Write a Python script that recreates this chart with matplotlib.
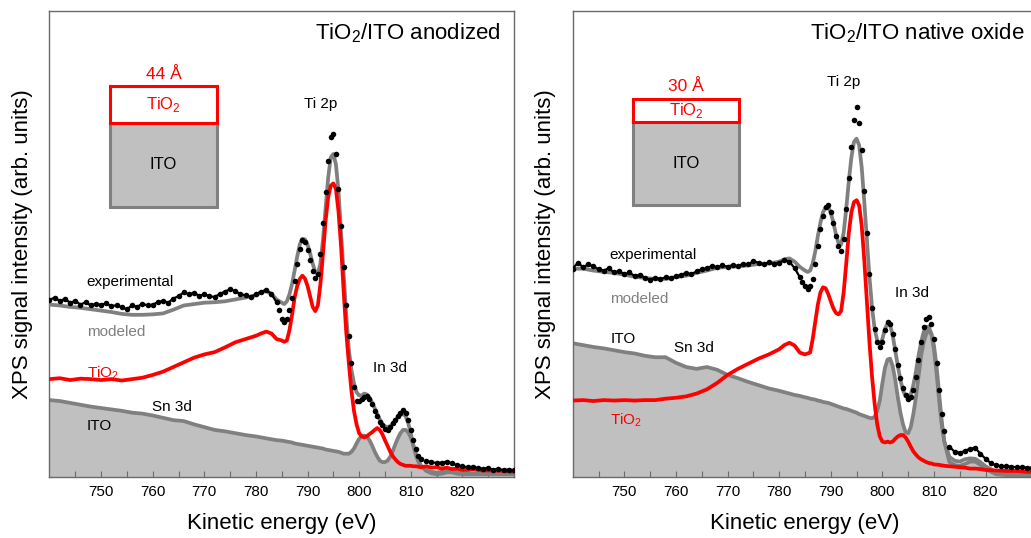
import numpy as np
import matplotlib
matplotlib.use('Agg')
import matplotlib.pyplot as plt
from matplotlib.patches import Rectangle

plt.rcParams['font.family'] = ['Liberation Sans', 'DejaVu Sans']
plt.rcParams['mathtext.fontset'] = 'custom'
plt.rcParams['mathtext.rm'] = 'Liberation Sans'

# energy grids (eV): smooth curves and experimental points
e_line = np.concatenate([np.arange(740, 781, 2), np.arange(781, 785, 1),
                         np.arange(785, 812.5, 0.5), np.arange(813, 821, 1),
                         np.arange(822, 831, 2)])
e_exp = np.concatenate([np.arange(740, 785, 1), np.arange(784.5, 812.5, 0.5),
                        np.arange(813, 831, 1)])

# ---- TiO2/ITO anodized (values in % of axis height) ----
anod_exp = [38.0, 38.5, 37.8, 38.2, 37.4, 37.8, 37.0, 37.5, 36.8, 37.2,
            36.9, 37.3, 36.6, 36.9, 36.4, 36.0, 36.8, 36.5, 37.2, 36.8,
            37.0, 37.5, 37.8, 37.4, 38.3, 38.8, 39.6, 39.2, 39.5, 38.9,
            39.2, 38.8, 38.6, 39.3, 39.8, 40.3, 39.9, 39.2, 39.0, 38.6,
            39.2, 39.8, 40.1, 39.3, 37.5,
            35.8, 34.0, 33.2, 34.0, 35.8, 38.4, 42.1, 45.7, 49.0, 50.9,
            50.5, 48.7, 46.5, 44.3, 42.8, 43.5, 47.9, 54.6, 61.2, 67.8,
            72.9, 73.7, 69.3, 61.9, 53.8, 45.0, 36.9, 30.3, 24.4, 19.3,
            16.3, 16.3, 16.7, 17.2, 17.4, 16.7, 15.6, 14.1, 13.0, 11.9,
            11.2, 10.4, 10.1, 10.8, 11.5, 12.3, 13.0, 13.8, 14.3, 13.8,
            12.3, 10.1, 7.9, 6.0, 4.6, 3.8,
            3.5, 3.2, 3.0, 3.1, 3.3, 2.9, 2.5, 2.3, 2.1, 2.2, 1.9, 1.8, 1.9,
            1.6, 1.7, 1.5, 1.6, 1.4]
anod_model = [37.0, 36.8, 36.5, 36.3, 36.0, 35.7, 35.4, 35.0, 34.8, 34.8, 34.9,
              35.1, 35.9, 36.8, 37.1, 37.4, 37.5, 37.7, 38.1, 38.5, 39.0,
              39.6, 39.9, 39.3, 38.1,
              37.4, 37.1, 37.7, 39.2, 41.4, 44.3, 47.3, 49.9, 51.1, 51.0,
              49.9, 48.0, 45.8, 44.0, 43.6, 45.8, 51.0, 57.6, 64.2, 68.6,
              69.3, 67.1, 61.3, 52.4, 43.6, 34.8, 27.4, 23.0, 20.1, 18.2,
              17.5, 17.5, 17.9, 17.7, 17.1, 16.0, 14.8, 13.5, 12.4, 11.4,
              10.9, 10.7, 10.9, 11.4, 12.1, 12.9, 13.3, 13.5, 13.1, 11.6,
              9.4, 6.8, 4.6, 3.2, 2.3,
              1.5, 1.1, 1.0, 1.1, 1.3, 1.3, 1.2, 1.0,
              0.8, 0.8, 0.8, 0.8, 0.8]
anod_tio2 = [21.0, 21.2, 20.8, 21.1, 21.0, 20.8, 21.0, 20.7, 21.0, 21.3, 21.9,
             22.6, 23.6, 24.6, 25.6, 26.3, 26.8, 27.8, 28.9, 29.6, 30.3,
             30.8, 31.2, 30.8, 29.6,
             29.3, 29.0, 29.3, 31.5, 34.8, 38.5, 41.0, 42.5, 43.2, 42.6,
             41.0, 38.8, 36.5, 35.6, 36.8, 41.4, 48.0, 55.0, 60.0, 62.5,
             63.0, 61.8, 57.0, 49.5, 39.9, 31.1, 24.5, 18.6, 14.2, 11.3,
             9.4, 8.7, 8.5, 8.7, 9.2, 9.6, 10.1, 10.5, 10.1, 9.2,
             7.9, 6.7, 5.5, 4.5, 3.8, 3.2, 2.8, 2.6, 2.4, 2.4,
             2.4, 2.3, 2.3, 2.2, 2.1,
             2.3, 2.0, 2.1, 1.8, 2.0, 1.7, 1.8, 1.5,
             1.7, 1.4, 1.4, 1.3, 1.1]
anod_ito = [16.5, 16.3, 15.9, 15.5, 15.1, 14.8, 14.5, 14.2, 13.8, 13.6, 13.2,
            12.7, 12.2, 12.0, 11.3, 10.7, 10.1, 9.8, 9.4, 9.0, 8.7,
            8.5, 8.3, 8.1, 7.9,
            7.8, 7.7, 7.6, 7.5, 7.4, 7.2, 7.1, 7.0, 6.9, 6.8,
            6.7, 6.6, 6.5, 6.4, 6.3, 6.2, 6.1, 5.9, 5.8, 5.7,
            5.6, 5.5, 5.4, 5.2, 5.0, 5.0, 5.0, 5.4, 6.1, 7.2,
            8.2, 8.8, 8.9, 8.7, 7.9, 6.8, 5.5, 4.4, 3.5, 3.2,
            3.2, 3.5, 4.3, 5.5, 7.0, 8.3, 9.4, 10.1, 10.1, 9.6,
            8.5, 6.8, 5.0, 3.5, 2.4,
            1.3, 0.8, 0.6, 0.7, 1.0, 1.0, 0.7, 0.6,
            0.6, 0.6, 0.6, 0.6, 0.6]

# ---- TiO2/ITO native oxide ----
nat_exp = [44.7, 46.0, 45.0, 45.6, 45.2, 44.6, 44.3, 44.8, 43.9, 44.2,
           43.5, 43.9, 43.1, 43.4, 42.8, 42.3, 42.8, 42.4, 42.9, 42.6,
           43.1, 43.4, 43.8, 43.5, 44.1, 44.6, 44.8, 45.3, 45.0, 45.4,
           45.1, 45.5, 45.2, 45.8, 45.6, 46.3, 46.0, 45.6, 46.1, 45.7,
           46.0, 46.5, 46.2, 44.8, 42.9,
           41.8, 41.0, 40.3, 41.0, 42.5, 45.8, 49.5, 53.2, 56.1, 57.9,
           58.3, 56.8, 54.6, 51.7, 49.5, 48.4, 51.0, 57.6, 64.2, 70.8,
           76.7, 79.5, 76.0, 70.1, 61.3, 52.4, 43.6, 36.3, 31.8, 28.9,
           27.8, 28.9, 31.5, 33.3, 32.9, 30.7, 27.4, 24.1, 21.2, 19.0,
           17.5, 16.8, 17.1, 18.6, 21.5, 25.2, 28.9, 32.2, 34.0, 34.4,
           32.9, 29.6, 24.5, 18.6, 13.5, 9.8,
           6.5, 5.4, 5.2, 5.6, 6.1, 6.2, 5.0, 3.9, 3.0, 2.5, 2.3, 2.3, 2.2,
           2.1, 2.1, 2.0, 2.0, 1.9]
nat_model = [44.7, 44.7, 44.3, 44.0, 43.8, 43.4, 43.0, 42.7, 42.5, 42.5, 42.9,
             43.2, 43.8, 44.3, 44.9, 45.1, 45.2, 45.4, 45.7, 45.8, 46.2,
             46.7, 46.9, 46.2, 45.1,
             44.3, 44.0, 44.3, 45.8, 48.4, 51.7, 54.6, 56.8, 57.9, 57.9,
             56.8, 54.6, 52.1, 50.2, 49.9, 52.4, 57.6, 63.5, 68.6, 71.9,
             72.6, 71.2, 66.4, 59.0, 51.0, 42.9, 36.3, 31.8, 29.3, 28.5,
             29.6, 31.8, 32.9, 32.6, 30.4, 27.1, 23.8, 20.8, 18.6, 17.3,
             17.0, 17.7, 19.7, 22.6, 26.0, 28.9, 31.1, 32.2, 32.2, 30.7,
             27.4, 22.3, 16.4, 11.3, 7.6,
             4.3, 3.5, 3.3, 3.8, 4.0, 3.9, 3.2, 2.3,
             1.1, 0.8, 0.7, 0.7, 0.7]
nat_tio2 = [16.4, 16.5, 16.3, 16.5, 16.4, 16.5, 16.4, 16.5, 16.5, 16.8, 17.0,
            17.3, 17.9, 18.8, 20.2, 21.9, 23.2, 24.3, 25.4, 26.3, 27.4,
            28.3, 28.8, 28.2, 26.7,
            26.3, 26.5, 26.7, 29.6, 33.3, 37.0, 39.6, 40.7, 40.5, 39.3,
            37.7, 36.2, 35.2, 34.9, 35.6, 39.6, 45.8, 52.4, 56.8, 59.0,
            59.4, 58.3, 53.9, 46.5, 37.7, 28.9, 21.5, 15.7, 11.3, 8.7,
            7.6, 7.4, 7.6, 7.4, 7.6, 8.2, 8.7, 9.0, 9.0, 8.5,
            7.6, 6.5, 5.5, 4.8, 4.2, 3.8, 3.5, 3.2, 3.0, 2.9,
            2.7, 2.65, 2.6, 2.5, 2.4,
            2.3, 2.2, 2.1, 2.0, 1.8, 1.8, 1.7, 1.5,
            1.4, 1.3, 1.3, 1.1, 1.1]
nat_ito = [28.7, 28.3, 27.9, 27.6, 27.2, 26.8, 26.5, 26.0, 25.7, 25.7, 24.5,
           23.6, 23.2, 23.6, 23.0, 21.9, 21.2, 20.4, 19.7, 19.0, 18.5,
           18.2, 17.9, 17.6, 17.4,
           17.1, 17.0, 16.8, 16.7, 16.6, 16.4, 16.3, 16.1, 16.0, 15.9,
           15.7, 15.5, 15.3, 15.1, 14.9, 14.7, 14.6, 14.4, 14.2, 14.0,
           13.8, 13.5, 13.3, 13.1, 12.9, 12.7, 12.6, 12.9, 14.2, 16.4,
           20.1, 23.4, 25.2, 25.4, 23.8, 20.8, 17.1, 13.8, 11.3, 9.6,
           9.4, 10.7, 13.5, 17.1, 21.5, 26.0, 28.9, 30.7, 31.5, 30.7,
           28.2, 23.8, 17.9, 12.0, 7.6,
           3.2, 2.6, 2.4, 2.8, 3.3, 3.3, 2.6, 1.7,
           0.6, 0.4, 0.4, 0.4, 0.4]

panels = [
    dict(exp=anod_exp, model=anod_model, tio2=anod_tio2, ito=anod_ito,
         title='TiO$_\\mathregular{2}$/ITO anodized', thick='44 Å',
         box=(0.130, 0.361, 0.759, 0.839, 0.580), thick_y=0.863,
         ti2p=(0.584, 0.801), in3d=(0.733, 0.233), sn3d=(0.263, 0.150),
         exp_lab=0.418, mod_lab=0.311, tio_lab=0.223, ito_lab=0.109),
    dict(exp=nat_exp, model=nat_model, tio2=nat_tio2, ito=nat_ito,
         title='TiO$_\\mathregular{2}$/ITO native oxide', thick='30 Å',
         box=(0.130, 0.358, 0.761, 0.812, 0.583), thick_y=0.838,
         ti2p=(0.584, 0.847), in3d=(0.731, 0.394), sn3d=(0.262, 0.276),
         exp_lab=0.476, mod_lab=0.383, tio_lab=0.123, ito_lab=0.297),
]

red = '#ff0000'
gray = '#808080'
light = '#c0c0c0'
frame = '#6a6a6a'

fig = plt.figure(figsize=(10.31, 5.38), dpi=100)
lefts = [0.048, 0.5555]

for left, p in zip(lefts, panels):
    ax = fig.add_axes([left, 0.1134, 0.4505, 0.8662])
    ax.fill_between(e_line, 0, p['ito'], color=light, lw=0, zorder=1)
    ax.plot(e_line, p['ito'], color=gray, lw=2.7, zorder=2)
    ax.plot(e_line, p['model'], color=gray, lw=2.7, zorder=3)
    ax.plot(e_line, p['tio2'], color=red, lw=2.7, zorder=4)
    # noisy flat parts of the spectrum look like a thick dotted band
    ax.plot(e_exp[:45], p['exp'][:45], color='black', lw=1.6, zorder=5)
    ax.plot(e_exp[-18:], p['exp'][-18:], color='black', lw=1.6, zorder=5)
    ax.plot(e_exp, p['exp'], 'o', color='black', ms=4.0, mew=0, zorder=5)

    ax.set_xlim(740, 830)
    ax.set_ylim(0, 100)
    ax.set_yticks([])
    ax.set_xticks(np.arange(750, 821, 10))
    ax.set_xticks(np.arange(745, 830, 5), minor=True)
    ax.tick_params(axis='x', which='both', direction='in', length=4,
                   width=0.8, color=frame, labelsize=11, pad=6)
    for s in ax.spines.values():
        s.set_color(frame)
        s.set_linewidth(1.0)

    ax.set_xlabel('Kinetic energy (eV)', fontsize=16)
    ax.xaxis.set_label_coords(0.5, -0.077)
    ax.set_ylabel('XPS signal intensity (arb. units)', fontsize=16)
    ax.yaxis.set_label_coords(-0.036, 0.5)

    tr = ax.transAxes
    ax.text(0.972, 0.952, p['title'], transform=tr, ha='right', va='center',
            fontsize=16)
    ax.text(*p['ti2p'], 'Ti 2p', transform=tr, ha='center', va='center', fontsize=11)
    ax.text(*p['in3d'], 'In 3d', transform=tr, ha='center', va='center', fontsize=11)
    ax.text(*p['sn3d'], 'Sn 3d', transform=tr, ha='center', va='center', fontsize=11)
    ax.text(0.079, p['exp_lab'], 'experimental', transform=tr, ha='left',
            va='center', fontsize=11)
    ax.text(0.081, p['mod_lab'], 'modeled', transform=tr, ha='left',
            va='center', fontsize=11, color=gray)
    ax.text(0.081, p['tio_lab'], 'TiO$_\\mathregular{2}$', transform=tr, ha='left',
            va='center', fontsize=11, color=red)
    ax.text(0.081, p['ito_lab'], 'ITO', transform=tr, ha='left',
            va='center', fontsize=11)

    # layer sketch
    x0, x1, ymid, ytop, ybot = p['box']
    ax.add_patch(Rectangle((x0, ybot), x1 - x0, ymid - ybot, transform=tr,
                           facecolor=light, edgecolor=gray, lw=2.2, zorder=6))
    ax.add_patch(Rectangle((x0, ymid), x1 - x0, ytop - ymid, transform=tr,
                           facecolor='white', edgecolor=red, lw=2.2, zorder=7))
    xc = (x0 + x1) / 2
    ax.text(xc, (ymid + ytop) / 2, 'TiO$_\\mathregular{2}$', transform=tr,
            ha='center', va='center', fontsize=12, color=red, zorder=8)
    ax.text(xc, (ybot + ymid) / 2, 'ITO', transform=tr, ha='center',
            va='center', fontsize=12, zorder=8)
    ax.text(xc, p['thick_y'], p['thick'], transform=tr, ha='center',
            va='center', fontsize=12.5, color=red, zorder=8)

fig.savefig('out.png', dpi=100)
